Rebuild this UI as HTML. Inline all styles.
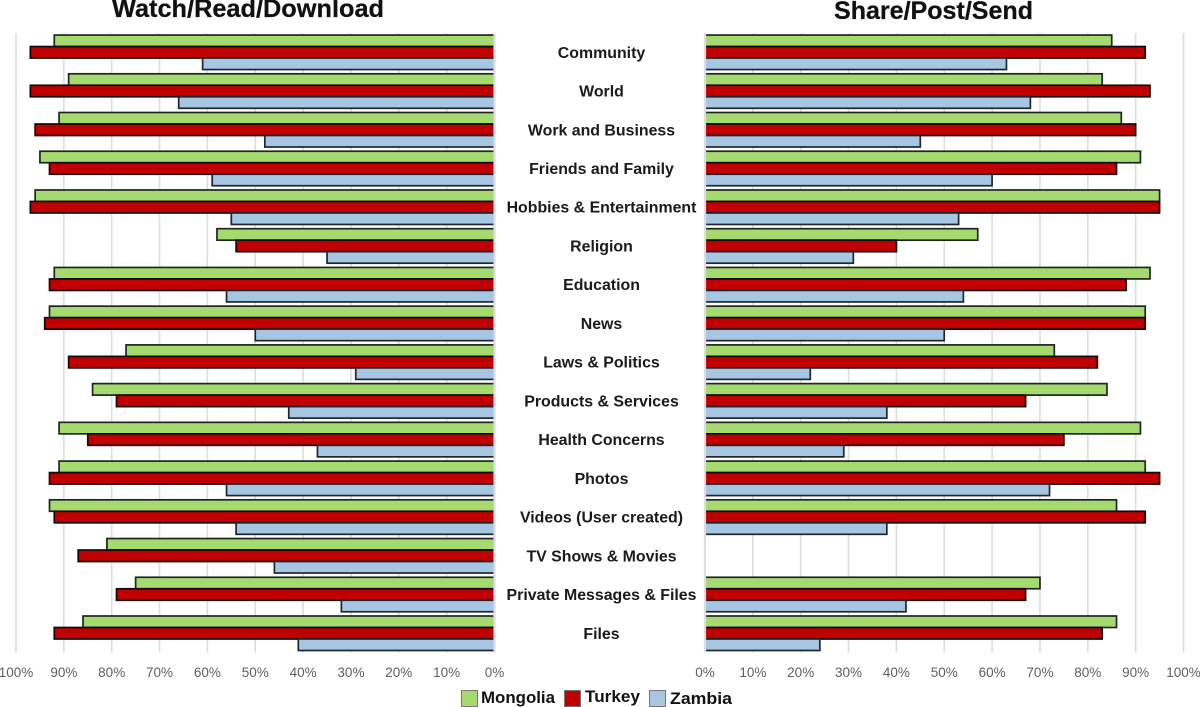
<!DOCTYPE html>
<html lang="en">
<head>
<meta charset="utf-8">
<title>Watch/Read/Download vs Share/Post/Send</title>
<style>
html,body{margin:0;padding:0;background:#fff;width:1200px;height:707px;overflow:hidden}
svg{display:block}
text{font-family:"Liberation Sans",sans-serif}
.title{font-size:25px;font-weight:bold;fill:#111;stroke:#111;stroke-width:.25}
.cat{font-size:15.9px;font-weight:bold;fill:#1a1a1a;text-anchor:middle}
.tick{font-size:13.5px;fill:#5e5e5e;text-anchor:middle}
.leg{font-size:17px;font-weight:bold;fill:#111}
</style>
</head>
<body>
<svg id="chart" xmlns="http://www.w3.org/2000/svg" width="1200" height="707" viewBox="0 0 1200 707">
  <rect width="1200" height="707" fill="#fff"/>
  <g id="grid"></g>
  <g id="bars"></g>
  <g id="axes"></g>
  <g id="cats"></g>
  <g id="ticks"></g>
  <text class="title" x="112" y="17" textLength="272" lengthAdjust="spacingAndGlyphs">Watch/Read/Download</text>
  <text class="title" x="834" y="19" textLength="199" lengthAdjust="spacingAndGlyphs">Share/Post/Send</text>
  <g>
    <rect x="461.5" y="690.5" width="16" height="16" fill="#a5db6e" stroke="#777" stroke-width="1"/>
    <text class="leg" x="481" y="703" textLength="74" lengthAdjust="spacingAndGlyphs">Mongolia</text>
    <rect x="564.5" y="690.5" width="16" height="16" fill="#c00000" stroke="#777" stroke-width="1"/>
    <text class="leg" x="585" y="702" textLength="55" lengthAdjust="spacingAndGlyphs">Turkey</text>
    <rect x="649.5" y="690.5" width="16" height="16" fill="#a7c6e1" stroke="#777" stroke-width="1"/>
    <text class="leg" x="670" y="704" textLength="62" lengthAdjust="spacingAndGlyphs">Zambia</text>
  </g>
</svg>
<script>
const categories = ["Community","World","Work and Business","Friends and Family","Hobbies & Entertainment","Religion","Education","News","Laws & Politics","Products & Services","Health Concerns","Photos","Videos (User created)","TV Shows & Movies","Private Messages & Files","Files"];
const tickValues = [0,10,20,30,40,50,60,70,80,90,100];
const tickLabels = ["0%","10%","20%","30%","40%","50%","60%","70%","80%","90%","100%"];
const watchMongolia = [92,89,91,95,96,58,92,93,77,84,91,91,93,81,75,86];
const watchTurkey = [97,97,96,93,97,54,93,94,89,79,85,93,92,87,79,92];
const watchZambia = [61,66,48,59,55,35,56,50,29,43,37,56,54,46,32,41];
const shareMongolia = [85,83,87,91,95,57,93,92,73,84,91,92,86,null,70,86];
const shareTurkey = [92,93,90,86,95,40,88,92,82,67,75,95,92,null,67,83];
const shareZambia = [63,68,45,60,53,31,54,50,22,38,29,72,38,null,42,24];

const NS = "http://www.w3.org/2000/svg";
const plotTop = 33, plotBottom = 652, barH = 11.5, pct = 4.785;
const pitch = 38.73;
const xLeft = v => 494.5 - v * pct;
const xRight = v => 705 + v * pct;
const yCenter = i => 52.3 + pitch * i;

function mk(tag, attrs, parent) {
  const el = document.createElementNS(NS, tag);
  for (const k in attrs) el.setAttribute(k, attrs[k]);
  parent.appendChild(el);
  return el;
}

const gridG = document.getElementById("grid");
const barsG = document.getElementById("bars");
const axesG = document.getElementById("axes");
const catsG = document.getElementById("cats");
const ticksG = document.getElementById("ticks");

[xLeft, xRight].forEach(function (x, p) {
  tickValues.forEach(function (v, i) {
    const line = mk("line", {x1: x(v), x2: x(v), y1: plotTop, y2: plotBottom + 0.5, stroke: "#dcdce2", "stroke-width": 1.6}, gridG);
    
    
    const t = mk("text", {x: x(v), y: 677, class: "tick"}, ticksG);
    t.textContent = tickLabels[i];
    
    
  });
  const axis = mk("line", {x1: x(0), x2: x(0), y1: plotTop, y2: plotBottom + 0.5, stroke: "#dcdce2", "stroke-width": 2.2}, axesG);
  
  
});

const colours = ["#a5db6e", "#c00000", "#a7c6e1"];
const strokes = ["#1e2622", "#140808", "#1e2630"];

function drawBars(series, side) {
  series.forEach(function (vals, s) {
    vals.forEach(function (v, i) {
      if (v === null) return;
      const y = yCenter(i) - barH * 1.5 + s * barH;
      const x0 = side === "left" ? xLeft(v) : xRight(0);
      const w = v * pct;
      const r = mk("rect", {x: x0, y: y, width: w, height: barH, fill: colours[s], stroke: strokes[s], "stroke-width": 1.7}, barsG);
      
      
    });
  });
}
drawBars([watchMongolia, watchTurkey, watchZambia], "left");
drawBars([shareMongolia, shareTurkey, shareZambia], "right");

categories.forEach(function (c, i) {
  const t = mk("text", {x: 601.5, y: yCenter(i) + 5.5, class: "cat"}, catsG);
  t.textContent = c;
  
  
});
</script>
</body>
</html>
